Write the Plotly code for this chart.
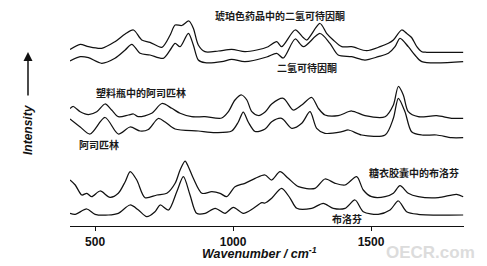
import plotly.graph_objects as go

# ---- data (wavenumber in cm-1, intensity in arbitrary offset units) ----
a1_x = [409, 446, 476, 524, 572, 609, 639, 669, 699, 742, 772, 790, 814, 840, 856, 874, 898, 947, 995, 1043,
        1086, 1127, 1158, 1176, 1225, 1254, 1267, 1315, 1339, 1363, 1394, 1430, 1484, 1533, 1563, 1581, 1611,
        1629, 1647, 1666, 1684, 1702, 1834]
a1_y = [176.5, 181.7, 179.3, 177.7, 184.3, 192, 196, 186, 183.7, 178.7, 191, 201, 200.5, 205, 197.7, 181, 174.3,
        175, 176.7, 174.3, 176, 179.3, 184.3, 179.3, 196, 188.5, 186, 202.5, 192.7, 186, 179.3, 179.3, 175.3,
        179.3, 182.7, 186, 196, 192.7, 188.5, 179.3, 174.3, 173.7, 173.7]

a2_x = [409, 446, 476, 524, 572, 609, 633, 663, 699, 747, 772, 790, 808, 838, 856, 874, 898, 959, 995, 1043,
        1122, 1158, 1182, 1225, 1255, 1315, 1351, 1381, 1430, 1478, 1526, 1563, 1587, 1605, 1635, 1659, 1684, 1834]
a2_y = [165, 169.3, 168.3, 162.7, 167.7, 176, 181.7, 172.7, 171, 167.7, 176, 182.7, 179.3, 192.7, 181, 166, 163.3,
        164.3, 166.7, 164.3, 169, 172.7, 168, 187, 179.3, 192.5, 182.7, 171, 169.3, 166, 169.3, 172.7, 179.3,
        187.7, 179.3, 171, 164.3, 164.3]

b1_x = [409, 421, 446, 476, 506, 536, 560, 584, 621, 639, 657, 705, 742, 778, 808, 850, 898, 959, 983, 1007,
        1031, 1050, 1068, 1092, 1116, 1140, 1182, 1218, 1249, 1285, 1309, 1333, 1381, 1430, 1478, 1551, 1581,
        1599, 1617, 1635, 1671, 1738, 1792, 1834]
b1_y = [117.5, 119.5, 114.3, 111.5, 114.3, 122, 116, 109.3, 111, 112, 109.3, 112.7, 122.5, 117.7, 112.7, 109.3,
        109.3, 108, 114.3, 126, 131, 126, 114.3, 110.5, 114, 122, 127.7, 116, 121, 128.5, 117.7, 111, 110.3, 115,
        110.3, 109.3, 121, 139.5, 131, 114.3, 109.3, 110.3, 107.7, 107.7]

b2_x = [409, 446, 482, 536, 584, 627, 663, 693, 729, 754, 790, 874, 935, 995, 1019, 1037, 1055, 1080, 1116,
        1140, 1176, 1213, 1249, 1279, 1303, 1333, 1394, 1418, 1466, 1551, 1581, 1599, 1623, 1647, 1684, 1738,
        1792, 1834]
b2_y = [107, 99, 92, 108.5, 92, 99, 95, 96.5, 107.5, 104, 97, 95, 93.5, 95, 104, 114, 104, 94.5, 97, 104.3,
        107.7, 97.7, 102.7, 114.3, 97.7, 92.7, 94.3, 96, 91, 91, 107.7, 127.7, 114.3, 94.3, 91, 91, 88.3, 88.3]

c1_x = [409, 428, 452, 470, 488, 518, 554, 584, 609, 627, 651, 681, 724, 760, 790, 808, 826, 840, 856, 887,
        923, 953, 977, 1007, 1043, 1080, 1116, 1140, 1170, 1200, 1237, 1297, 1333, 1370, 1406, 1448, 1472, 1502,
        1551, 1581, 1605, 1635, 1671, 1744, 1810, 1834]
c1_y = [46, 41, 31, 32.7, 29.3, 35, 28.7, 32.7, 44.3, 54.3, 46, 28.3, 31, 32.7, 42.7, 56, 65, 58, 47.7, 32.7,
        34.3, 32.7, 29.3, 39.3, 42.7, 47.7, 51, 46, 54.3, 47.7, 39.3, 37.7, 47, 42.7, 41, 49.3, 36, 29.3, 29.3,
        32.7, 40.3, 32.7, 29.3, 28.3, 31.7, 29.3]

c2_x = [409, 428, 470, 500, 548, 584, 627, 657, 687, 717, 736, 766, 796, 820, 844, 868, 899, 935, 971, 1001,
        1037, 1074, 1104, 1116, 1140, 1176, 1207, 1231, 1285, 1327, 1363, 1406, 1442, 1472, 1526, 1569, 1599,
        1629, 1671, 1834]
c2_y = [12.7, 11.7, 17, 11.7, 11, 12.7, 21, 16, 9.3, 14.3, 21, 16, 34.3, 49.3, 31, 12.7, 12.7, 17.7, 12.7, 18.7,
        12.7, 17.7, 23.3, 23, 27.7, 37.7, 27.7, 17.7, 17.7, 22.7, 17.7, 17.7, 26, 14.3, 11.7, 16, 25, 14.3,
        11.7, 11]

series = [(a1_x, a1_y), (a2_x, a2_y), (b1_x, b1_y), (b2_x, b2_y), (c1_x, c1_y), (c2_x, c2_y)]

labels = ["琥珀色药品中的二氢可待因酮", "二氢可待因酮", "塑料瓶中的阿司匹林", "阿司匹林",
          "糖衣胶囊中的布洛芬", "布洛芬"]
label_pos = [(0.533, 0.953), (0.601, 0.715), (0.180, 0.606), (0.0736, 0.367), (0.873, 0.243), (0.702, 0.032)]

tick_vals = [500, 1000, 1500]
tick_text = ["500", "1000", "1500"]

fig = go.Figure()
for xs, ys in series:
    fig.add_trace(go.Scatter(x=xs, y=ys, mode="lines",
                             line=dict(color="#111111", width=1.25, shape="spline", smoothing=0.8),
                             showlegend=False, hoverinfo="skip"))

ann = []
for t, (px, py) in zip(labels, label_pos):
    ann.append(dict(text=t, x=px, y=py, xref="paper", yref="paper", showarrow=False,
                    font=dict(family="Noto Sans CJK SC", size=10, color="#1a1a1a", weight="bold"),
                    xanchor="center", yanchor="middle"))

ann.append(dict(text="<b><i>Wavenumber / cm<sup>-1</sup></i></b>", x=0.482, y=-0.122, xref="paper", yref="paper",
                showarrow=False, font=dict(family="Liberation Sans", size=12.5, color="#111111"),
                xanchor="center", yanchor="middle"))
ann.append(dict(text="<b><i>Intensity</i></b>", x=-0.1066, y=0.439, xref="paper", yref="paper",
                showarrow=False, textangle=-90,
                font=dict(family="Liberation Sans", size=12, color="#111111"),
                xanchor="center", yanchor="middle"))
ann.append(dict(text="", x=-0.1066, y=0.787, xref="paper", yref="paper", showarrow=True,
                ax=0, ay=45, arrowhead=2, arrowsize=1.2, arrowwidth=1.5, arrowcolor="#111111"))
ann.append(dict(text="<b>OECR.com</b>", x=0.916, y=-0.118, xref="paper", yref="paper", showarrow=False,
                font=dict(family="Liberation Sans", size=17, color="#dcdcdc"),
                xanchor="center", yanchor="middle"))

fig.update_layout(
    width=487, height=266,
    margin=dict(l=70, r=23, t=5, b=40),
    paper_bgcolor="white", plot_bgcolor="white",
    annotations=ann,
    xaxis=dict(range=[409, 1837], showgrid=False, zeroline=False, showline=True, linecolor="#111111",
               linewidth=1.2, ticks="outside", ticklen=4, tickwidth=1, tickcolor="#111111",
               tickvals=tick_vals, ticktext=tick_text,
               tickfont=dict(family="Liberation Sans", size=12, color="#111111", weight="bold")),
    yaxis=dict(range=[0, 221], visible=False),
)

fig.write_html("out.html")
